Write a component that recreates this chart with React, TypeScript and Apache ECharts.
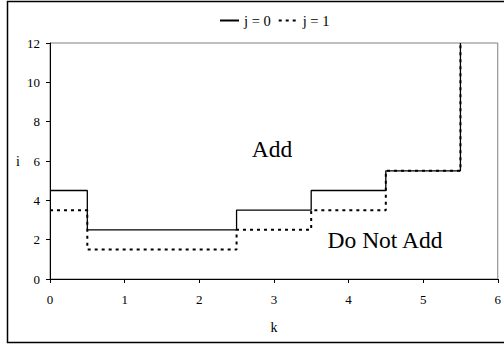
import React, { useEffect, useRef } from "react";
import * as echarts from "echarts";

const seriesNames = ["j = 0", "j = 1"];
const stepX = [0, 0.5, 2.5, 3.5, 4.5, 5.5];
const j0Values = [4.5, 2.5, 3.5, 4.5, 5.5, 12];
const j1Values = [3.5, 1.5, 2.5, 3.5, 5.5, 12];
const xTicks = [0, 1, 2, 3, 4, 5, 6];
const yTicks = [0, 2, 4, 6, 8, 10, 12];
const regionLabels = ["Add", "Do Not Add"];

const FONT = '"Times New Roman", "Liberation Serif", "DejaVu Serif", serif';

export default function App() {
  const ref = useRef<HTMLDivElement>(null);
  useEffect(() => {
    if (!ref.current) return;
    const chart = echarts.init(ref.current, undefined, { renderer: "svg" });
    const toPairs = (vals: number[]) => stepX.map((x, i) => [x, vals[i]]);
    chart.setOption({
      animation: false,
      backgroundColor: "#fff",
      textStyle: { fontFamily: FONT, color: "#000" },
      legend: {
        data: seriesNames,
        left: 214,
        top: 8,
        itemWidth: 19,
        itemHeight: 10,
        itemGap: 7,
        itemStyle: { opacity: 0 },
        inactiveColor: "#000",
        textStyle: { fontFamily: FONT, fontSize: 14.5, color: "#000" },
      },
      grid: {
        left: 50,
        right: 4,
        top: 43,
        bottom: 68,
        show: true,
        borderColor: "#808080",
        borderWidth: 1,
        backgroundColor: "transparent",
      },
      xAxis: {
        type: "value",
        min: xTicks[0],
        max: xTicks[xTicks.length - 1],
        interval: 1,
        name: "k",
        nameLocation: "middle",
        nameGap: 41,
        nameTextStyle: { fontFamily: FONT, fontSize: 14, color: "#000" },
        axisLine: { show: true, lineStyle: { color: "#000", width: 1 } },
        axisTick: { show: true, length: 4, lineStyle: { color: "#000" } },
        axisLabel: { fontFamily: FONT, fontSize: 13, color: "#000", margin: 14 },
        splitLine: { show: false },
      },
      yAxis: {
        type: "value",
        min: yTicks[0],
        max: yTicks[yTicks.length - 1],
        interval: 2,
        name: "i",
        nameLocation: "middle",
        nameRotate: 0,
        nameGap: 30,
        nameTextStyle: { fontFamily: FONT, fontSize: 14, color: "#000" },
        axisLine: { show: true, lineStyle: { color: "#000", width: 1 } },
        axisTick: { show: true, length: 4, lineStyle: { color: "#000" } },
        axisLabel: { fontFamily: FONT, fontSize: 13, color: "#000", margin: 10 },
        splitLine: { show: false },
      },
      series: [
        {
          name: seriesNames[0],
          type: "line",
          step: "end",
          symbol: "none",
          data: toPairs(j0Values),
          lineStyle: { color: "#000", width: 1.3, type: "solid" },
          itemStyle: { color: "#000" },
        },
        {
          name: seriesNames[1],
          type: "line",
          step: "end",
          symbol: "none",
          data: toPairs(j1Values),
          lineStyle: { color: "#000", width: 2, type: [3, 4] },
          itemStyle: { color: "#000" },
        },
      ],
      graphic: [
        {
          type: "rect",
          shape: { x: 7.5, y: 1.5, width: 510, height: 341 },
          style: { fill: "none", stroke: "#000", lineWidth: 1.5 },
          silent: true,
        },
        {
          type: "text",
          x: 272,
          y: 149,
          style: {
            text: regionLabels[0],
            fontFamily: FONT,
            fontSize: 23.5,
            fill: "#000",
            align: "center",
            verticalAlign: "middle",
          },
        },
        {
          type: "text",
          x: 385,
          y: 240,
          style: {
            text: regionLabels[1],
            fontFamily: FONT,
            fontSize: 23.5,
            fill: "#000",
            align: "center",
            verticalAlign: "middle",
          },
        },
      ],
    });
    return () => chart.dispose();
  }, []);
  return (
    <div
      ref={ref}
      style={{ position: "fixed", left: 0, top: 0, width: 504, height: 347 }}
    />
  );
}
